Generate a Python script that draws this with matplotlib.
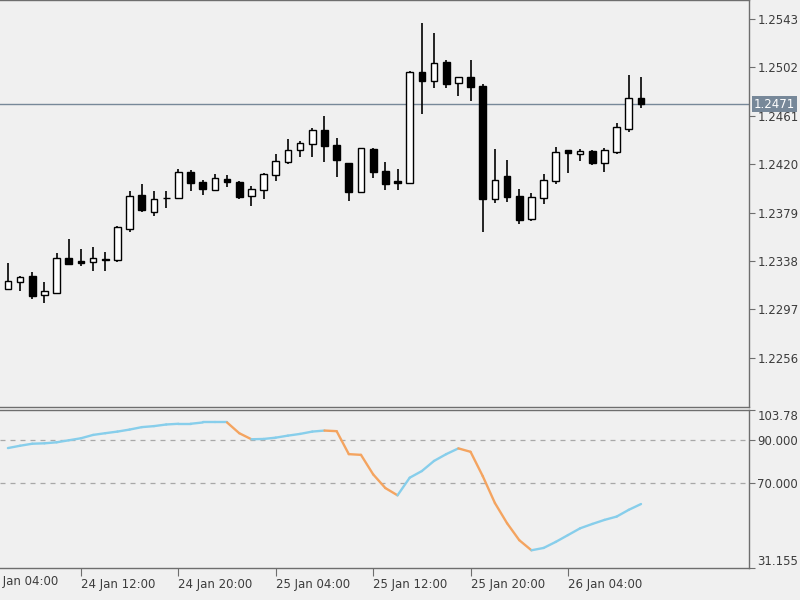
import matplotlib
matplotlib.use('Agg')
import matplotlib.pyplot as plt
import matplotlib.transforms as mtransforms
import numpy as np
import pandas as pd

# ── data ──────────────────────────────────────────────────────────────────────
times = pd.date_range('2018-01-24 06:00', periods=53, freq='h')

opens = [1.23143, 1.23205, 1.23253, 1.23092, 1.23112, 1.23403, 1.23380, 1.23374,
         1.23397, 1.23389, 1.23651, 1.23939, 1.23798, 1.23910, 1.23911, 1.24132,
         1.24052, 1.23982, 1.24075, 1.24052, 1.23931, 1.23982, 1.24109, 1.24221,
         1.24320, 1.24369, 1.24490, 1.24363, 1.24208, 1.23967, 1.24326, 1.24143,
         1.24058, 1.24038, 1.24981, 1.24907, 1.25063, 1.24885, 1.24941, 1.24865,
         1.23903, 1.24103, 1.23933, 1.23733, 1.23911, 1.24058, 1.24320, 1.24284,
         1.24312, 1.24213, 1.24306, 1.24496, 1.24758]
highs = [1.23363, 1.23253, 1.23290, 1.23202, 1.23445, 1.23564, 1.23482, 1.23496,
         1.23459, 1.23677, 1.23973, 1.24030, 1.23973, 1.23973, 1.24157, 1.24151,
         1.24066, 1.24117, 1.24109, 1.24058, 1.24016, 1.24123, 1.24287, 1.24411,
         1.24399, 1.24504, 1.24608, 1.24425, 1.24213, 1.24340, 1.24335, 1.24221,
         1.24157, 1.24992, 1.25394, 1.25314, 1.25083, 1.24941, 1.25083, 1.24879,
         1.24326, 1.24236, 1.23988, 1.23959, 1.24115, 1.24348, 1.24320, 1.24329,
         1.24320, 1.24335, 1.24547, 1.24956, 1.24936]
lows = [1.23135, 1.23126, 1.23058, 1.23027, 1.23109, 1.23357, 1.23338, 1.23298,
        1.23298, 1.23374, 1.23628, 1.23798, 1.23761, 1.23827, 1.23903, 1.23976,
        1.23939, 1.23977, 1.24010, 1.23903, 1.23849, 1.23903, 1.24058, 1.24199,
        1.24259, 1.24259, 1.24221, 1.24094, 1.23891, 1.23965, 1.24081, 1.23982,
        1.23982, 1.24032, 1.24623, 1.24843, 1.24843, 1.24778, 1.24738, 1.23628,
        1.23874, 1.23883, 1.23694, 1.23722, 1.23863, 1.24032, 1.24123, 1.24227,
        1.24193, 1.24137, 1.24287, 1.24475, 1.24674]
closes = [1.23211, 1.23247, 1.23084, 1.23124, 1.23403, 1.23357, 1.23363, 1.23403,
          1.23393, 1.23666, 1.23933, 1.23812, 1.23903, 1.23918, 1.24132, 1.24043,
          1.23988, 1.24081, 1.24047, 1.23925, 1.23988, 1.24115, 1.24230, 1.24320,
          1.24377, 1.24490, 1.24354, 1.24236, 1.23967, 1.24335, 1.24137, 1.24032,
          1.24045, 1.24984, 1.24905, 1.25060, 1.24879, 1.24936, 1.24857, 1.23903,
          1.24066, 1.23925, 1.23728, 1.23925, 1.24066, 1.24306, 1.24298, 1.24312,
          1.24208, 1.24320, 1.24513, 1.24758, 1.24710]

osc = [86.28, 87.35, 88.28, 88.47, 88.93, 89.86, 90.79, 92.33, 93.12, 93.86,
       94.79, 95.91, 96.37, 97.12, 97.44, 97.44, 98.05, 98.05, 98.05, 93.12,
       90.33, 90.47, 91.07, 92.00, 92.79, 93.86, 94.33, 94.05, 83.49, 83.16,
       74.19, 67.91, 64.56, 72.65, 75.72, 80.37, 83.49, 86.14, 84.56, 73.40,
       61.02, 51.72, 43.95, 39.30, 40.37, 43.16, 46.28, 49.40, 51.40, 53.26,
       54.79, 57.91, 60.56]

last_price = 1.2471
price_ticks = [1.2543, 1.2502, 1.2461, 1.2420, 1.2379, 1.2338, 1.2297, 1.2256]
osc_ticks = [103.78, 90.0, 70.0, 31.155]
osc_tick_labels = ['103.78', '90.000', '70.000', '31.155']
osc_levels = [90.0, 70.0]

# ── style ─────────────────────────────────────────────────────────────────────
BG = '#f0f0f0'
FRAME = '#6e6e6e'
TXT = '#3c3c3c'
UP_C = '#87ceeb'
DN_C = '#f4a460'
PRICE_C = '#778899'
FS = 8.5

fig = plt.figure(figsize=(8, 6), dpi=100, facecolor=BG)
ax = fig.add_axes([0, 193 / 600, 749 / 800, 407 / 600])
ax2 = fig.add_axes([0, 32 / 600, 749 / 800, 158 / 600], sharex=ax)

for a in (ax, ax2):
    a.set_facecolor(BG)
    a.spines['left'].set_visible(False)
    for s in ('top', 'right', 'bottom'):
        a.spines[s].set_color(FRAME)
        a.spines[s].set_linewidth(1.0)
    a.yaxis.tick_right()
    a.tick_params(axis='y', direction='out', length=4, color=FRAME,
                  labelcolor=TXT, labelsize=FS, pad=2)

x = np.arange(len(opens))
o = np.array(opens)
h = np.array(highs)
l = np.array(lows)
c = np.array(closes)

# ── candles ───────────────────────────────────────────────────────────────────
ax.axhline(last_price, color=PRICE_C, lw=1.0, zorder=1)
ax.vlines(x, l, h, color='black', lw=1.2, zorder=2)
up = c >= o
body_lo = np.minimum(o, c)
body_h = np.abs(c - o)
ax.bar(x[up], body_h[up], bottom=body_lo[up], width=0.55,
       color='white', edgecolor='black', lw=1.0, zorder=3)
ax.bar(x[~up], body_h[~up], bottom=body_lo[~up], width=0.55,
       color='black', edgecolor='black', lw=1.0, zorder=3)

ax.set_xlim(-0.65, 60.87)
ax.set_ylim(1.22144, 1.25591)
ax.set_yticks(price_ticks)
ax.set_yticklabels([f'{t:.4f}' for t in price_ticks])
ax.tick_params(axis='x', bottom=False, labelbottom=False)

trans = mtransforms.blended_transform_factory(ax.transAxes, ax.transData)
ax.text(1.006, last_price, f'{last_price:.4f}', transform=trans,
        ha='left', va='center', fontsize=FS, color='white', clip_on=False,
        zorder=10, bbox=dict(boxstyle='square,pad=0.15', fc=PRICE_C, ec='none'))

# ── oscillator ────────────────────────────────────────────────────────────────
for lv in osc_levels:
    ax2.axhline(lv, color='#a8a8a8', lw=0.9, ls=(0, (4, 4)), zorder=1)
for i in range(1, len(osc)):
    col = UP_C if osc[i] >= osc[i - 1] else DN_C
    ax2.plot([x[i - 1], x[i]], [osc[i - 1], osc[i]], color=col, lw=1.7,
             solid_capstyle='round', zorder=3)

ax2.set_ylim(31.155, 103.78)
ax2.set_yticks(osc_ticks)
lbls = ax2.set_yticklabels(osc_tick_labels)
lbls[0].set_va('top')
lbls[-1].set_va('bottom')

tick_idx = [i for i, t in enumerate(times) if t.hour % 8 == 4]
ax2.set_xticks(tick_idx)
ax2.set_xticklabels([times[i].strftime('%d %b %H:%M') for i in tick_idx],
                    ha='left')
ax2.tick_params(axis='x', direction='out', length=6, color=FRAME,
                labelcolor=TXT, labelsize=FS, pad=1)

# label of the hidden tick left of the view
prev_t = times[0] - pd.Timedelta(hours=2)
tx = mtransforms.blended_transform_factory(ax2.transData, ax2.transAxes)
ax2.text(-2, -0.046, prev_t.strftime('%d %b %H:%M'), transform=tx,
         ha='left', va='top', fontsize=FS, color=TXT, clip_on=False)

fig.savefig('out.png', dpi=100, facecolor=BG)
plt.close()
